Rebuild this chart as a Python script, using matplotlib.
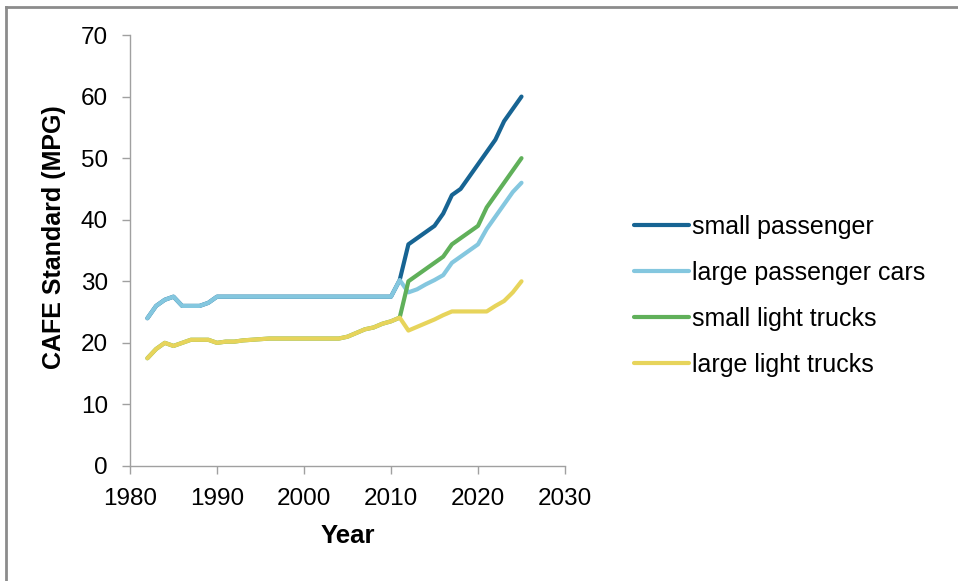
import numpy as np
import matplotlib
matplotlib.use('Agg')
import matplotlib.pyplot as plt
from matplotlib.lines import Line2D

plt.rcParams['font.family'] = ['Liberation Sans', 'DejaVu Sans']

years = list(range(1982, 2026))

small_passenger = [24, 26, 27, 27.5, 26, 26, 26, 26.5,
                   27.5, 27.5, 27.5, 27.5, 27.5, 27.5, 27.5, 27.5, 27.5, 27.5,
                   27.5, 27.5, 27.5, 27.5, 27.5, 27.5, 27.5, 27.5, 27.5, 27.5, 27.5,
                   30.2, 36, 37, 38, 39, 41, 44, 45, 47, 49, 51, 53, 56, 58, 60]
large_passenger = [24, 26, 27, 27.5, 26, 26, 26, 26.5,
                   27.5, 27.5, 27.5, 27.5, 27.5, 27.5, 27.5, 27.5, 27.5, 27.5,
                   27.5, 27.5, 27.5, 27.5, 27.5, 27.5, 27.5, 27.5, 27.5, 27.5, 27.5,
                   30.2, 28.2, 28.7, 29.5, 30.2, 31, 33, 34, 35, 36, 38.5, 40.5, 42.5, 44.5, 46]
small_trucks = [17.5, 19, 20, 19.5, 20, 20.5, 20.5, 20.5,
                20, 20.2, 20.2, 20.4, 20.5, 20.6, 20.7, 20.7, 20.7, 20.7,
                20.7, 20.7, 20.7, 20.7, 20.7, 21, 21.6, 22.2, 22.5, 23.1, 23.5,
                24.1, 30, 31, 32, 33, 34, 36, 37, 38, 39, 42, 44, 46, 48, 50]
large_trucks = [17.5, 19, 20, 19.5, 20, 20.5, 20.5, 20.5,
                20, 20.2, 20.2, 20.4, 20.5, 20.6, 20.7, 20.7, 20.7, 20.7,
                20.7, 20.7, 20.7, 20.7, 20.7, 21, 21.6, 22.2, 22.5, 23.1, 23.5,
                24.1, 22, 22.6, 23.2, 23.8, 24.5, 25.1, 25.1, 25.1, 25.1, 25.1, 26, 26.8, 28.2, 30]

labels = ['small passenger', 'large passenger cars', 'small light trucks', 'large light trucks']
colors = ['#176493', '#84c7df', '#60b05a', '#e7d45b']

fig = plt.figure(figsize=(9.58, 5.81), dpi=100)
ax = fig.add_axes([130/958, 115/581, 435/958, 431/581])

series = [small_passenger, large_passenger, small_trucks, large_trucks]
for vals, lab, c in zip(series, labels, colors):
    ax.plot(years, vals, color=c, lw=3, label=lab, solid_capstyle='round', solid_joinstyle='round')

ax.set_xlim(1980, 2030)
ax.set_ylim(0, 70)
ax.set_xticks(range(1980, 2031, 10))
ax.set_yticks(range(0, 71, 10))
for s in ['top', 'right']:
    ax.spines[s].set_visible(False)
for s in ['left', 'bottom']:
    ax.spines[s].set_color('#a0a0a0')
    ax.spines[s].set_linewidth(1)
ax.tick_params(axis='both', colors='#a0a0a0', labelcolor='black', labelsize=17.5, length=6, width=1)
ax.tick_params(axis='y', pad=10)
ax.tick_params(axis='x', pad=10)
ax.set_xlabel('Year', fontsize=18.5, fontweight='bold')
ax.set_ylabel('CAFE Standard (MPG)', fontsize=18, fontweight='bold')
ax.xaxis.set_label_coords(0.5, -(537 - 467) / 431)
ax.xaxis.label.set_va('center')
ax.yaxis.set_label_coords(-(130 - 54) / 435, (467 - 238) / 431)
ax.yaxis.label.set_va('center')

fig.legend(loc='center left', bbox_to_anchor=(621/958, 1 - 296/581), frameon=False, borderpad=0,
           fontsize=18, handlelength=2.2, handletextpad=0.16, labelspacing=0.88)

# outer frame (top and left edges visible)
fig.add_artist(Line2D([6/958, 6/958], [0, 1 - 7/581], transform=fig.transFigure, color='#8c8c8c', lw=2))
fig.add_artist(Line2D([6/958, 1], [1 - 7/581, 1 - 7/581], transform=fig.transFigure, color='#8c8c8c', lw=2))

fig.savefig('out.png', dpi=100)
